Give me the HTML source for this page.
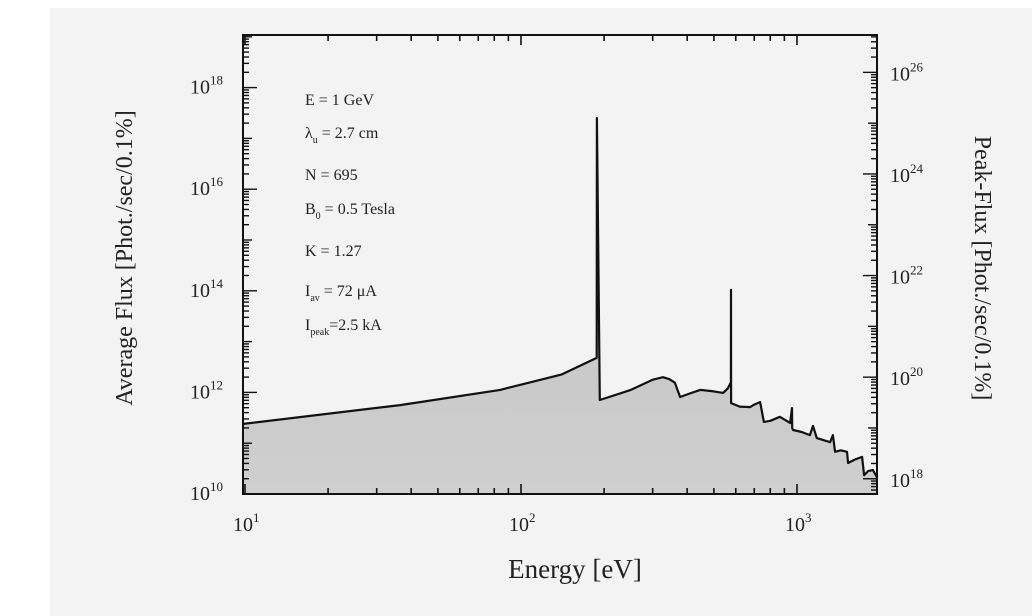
<!DOCTYPE html>
<html><head><meta charset="utf-8"><style>
body{margin:0;width:1032px;height:616px;background:#fff;overflow:hidden}
svg{display:block}
text{font-family:"Liberation Serif",serif;fill:#222}
</style></head><body>
<svg id="c" width="1032" height="616">
<rect x="50" y="8" width="982" height="608" fill="#f3f3f3"/>
<defs><linearGradient id="g" x1="0" y1="0" x2="0" y2="1"><stop offset="0" stop-color="#e2e2e2"/><stop offset="0.45" stop-color="#c6c6c6"/><stop offset="1" stop-color="#cfcfcf"/></linearGradient></defs>
<g id="plot"></g>
</svg>
<script>
const energies=[9.84,36.5,84,140,188,188.3,193,250,300,327,345,361,377,410,446,500,540,562,576,576.5,577,620,676,700,735,759,800,867,944,959,961,968,1040,1114,1143,1180,1250,1318,1349,1374,1440,1517,1531,1622,1722,1750,1810,1884,1950];
const logFlux=[11.38,11.75,12.05,12.35,12.68,17.40,11.85,12.05,12.25,12.30,12.26,12.19,11.91,11.98,12.05,12.02,11.99,12.08,12.2,14.02,11.79,11.72,11.71,11.76,11.81,11.42,11.44,11.52,11.40,11.69,11.3,11.26,11.22,11.16,11.34,11.10,11.06,11.02,11.16,10.83,10.86,10.83,10.61,10.68,10.73,10.37,10.45,10.47,10.33];
const xDecades=[1,2,3];const leftDecades=[10,12,14,16,18];const rightDecades=[18,20,22,24,26];
const L=243,R=877,T=35,B=494;
const X=e=>245+(Math.log10(e)-1)*276;
const Y=lf=>494-(lf-10)*50.8;
const YR=lf=>Y(lf-7.7);
const ns="http://www.w3.org/2000/svg";const P=document.getElementById('plot');
function mk(t,a,p){const el=document.createElementNS(ns,t);for(const k in a)el.setAttribute(k,a[k]);(p||P).appendChild(el);return el;}
let d='';energies.forEach((e,i)=>{d+=(i?'L':'M')+X(e).toFixed(1)+','+Y(logFlux[i]).toFixed(1);});
const area=mk('path',{d:d+'L'+R+','+B+'L'+L+','+B+'Z',fill:'url(#g)'});


const line=mk('path',{d:d,fill:'none',stroke:'#111','stroke-width':2.2,'stroke-linejoin':'round'});


const frame=mk('rect',{x:L,y:T,width:R-L,height:B-T,fill:'none',stroke:'#111','stroke-width':2});


for(let dec=1;dec<=3;dec++)for(let m=1;m<10;m++){const e=m*Math.pow(10,dec);const x=X(e);if(x<L-1||x>R)continue;const len=m==1?10:6;
mk('line',{x1:x,y1:B,x2:x,y2:B-len,stroke:'#111','stroke-width':1.6});mk('line',{x1:x,y1:T,x2:x,y2:T+len,stroke:'#111','stroke-width':1.6});}
xDecades.forEach(dd=>{const t=mk('text',{x:X(Math.pow(10,dd))-12,y:531,'font-size':20});t.innerHTML='10<tspan dy="-9" font-size="13">'+dd+'</tspan>';

});
function yt(f,x0,dir,labs,lx){for(let dec=10;dec<=19;dec++)for(let m=1;m<10;m++){const lf=dec+Math.log10(m);const y=f(lf);if(y<T||y>B)continue;const len=m==1?(dec%2==0?14:9):6;mk('line',{x1:x0,y1:y,x2:x0+dir*len,y2:y,stroke:'#111','stroke-width':1.4});}
labs.forEach(v=>{const t=mk('text',{x:lx,y:f(v)+6,'font-size':20});t.innerHTML='10<tspan dy="-9" font-size="13">'+v+'</tspan>';

});}
yt(Y,L,1,leftDecades,190);
function ytr(){for(let dec=17;dec<=27;dec++)for(let m=1;m<10;m++){const lf=dec+Math.log10(m);const y=YR(lf);if(y<T||y>B)continue;const len=m==1?(dec%2==0?14:9):6;mk('line',{x1:R,y1:y,x2:R-len,y2:y,stroke:'#111','stroke-width':1.4});}
rightDecades.forEach(v=>{const t=mk('text',{x:890,y:YR(v)+8,'font-size':20});t.innerHTML='10<tspan dy="-9" font-size="13">'+v+'</tspan>';

});}
ytr();
</script>
<svg width="1032" height="616" style="position:absolute;left:0;top:0">
<text x="575" y="578" font-size="27" text-anchor="middle">Energy [eV]</text>
<text transform="translate(132,258) rotate(-90)" font-size="24" text-anchor="middle">Average Flux [Phot./sec/0.1%]</text>
<text transform="translate(975,268) rotate(90)" font-size="24" text-anchor="middle">Peak-Flux [Phot./sec/0.1%]</text>
<g font-size="16">
<text x="305" y="105">E = 1 GeV</text>
<text x="305" y="138">λ<tspan dy="5" font-size="10">u</tspan><tspan dy="-5"> = 2.7 cm</tspan></text>
<text x="305" y="180">N = 695</text>
<text x="305" y="214">B<tspan dy="5" font-size="10">0</tspan><tspan dy="-5"> = 0.5 Tesla</tspan></text>
<text x="305" y="256">K = 1.27</text>
<text x="305" y="296">I<tspan dy="5" font-size="10">av</tspan><tspan dy="-5"> = 72 μA</tspan></text>
<text x="305" y="330">I<tspan dy="5" font-size="10">peak</tspan><tspan dy="-5">=2.5 kA</tspan></text>
</g>
</svg>
</body></html>
